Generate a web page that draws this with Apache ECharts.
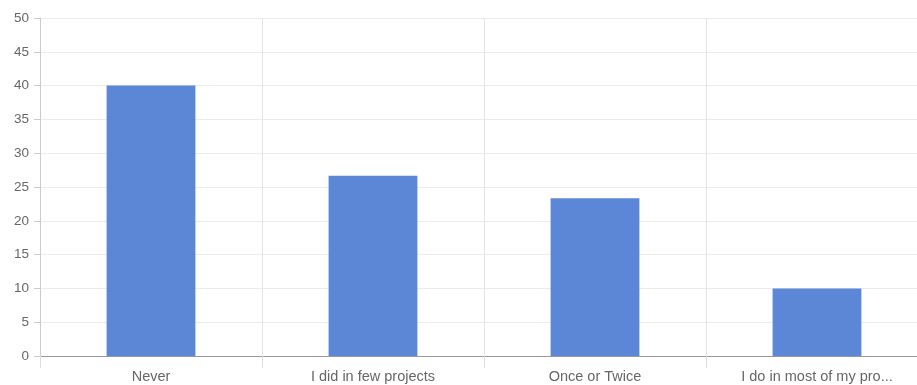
<!DOCTYPE html>
<html>
<head>
<meta charset="utf-8">
<script src="https://cdn.jsdelivr.net/npm/echarts@6/dist/echarts.min.js"></script>
<style>
  html, body { margin: 0; padding: 0; background: #fff; overflow: hidden; }
  #chart { width: 928px; height: 385px; }
</style>
</head>
<body>
<div id="chart"></div>
<script>
var categories = ['Never', 'I did in few projects', 'Once or Twice', 'I do in most of my projects'];
var values = [40, 26.67, 23.33, 10];
var yMin = 0, yMax = 50, yStep = 5;

var chart = echarts.init(document.getElementById('chart'));
var option = {
  animation: false,
  grid: {
    left: 40,
    right: 0,
    top: 18,
    bottom: 29
  },
  xAxis: {
    type: 'category',
    data: categories,
    axisLine: { lineStyle: { color: '#999', width: 1 } },
    axisTick: { show: true, length: 12, lineStyle: { color: '#ddd' } },
    splitLine: { show: true, lineStyle: { color: '#e3e3e3' } },
    axisLabel: {
      color: '#666',
      fontSize: 14.5,
      fontFamily: 'Arial, "Liberation Sans", sans-serif',
      margin: 13,
      width: 154,
      overflow: 'truncate',
      ellipsis: '...'
    }
  },
  yAxis: {
    type: 'value',
    min: yMin,
    max: yMax,
    interval: yStep,
    axisLine: { show: true, lineStyle: { color: '#ccc' } },
    axisTick: { show: true, length: 6, lineStyle: { color: '#ccc' } },
    splitLine: { show: true, lineStyle: { color: '#ebebeb' } },
    axisLabel: {
      color: '#666',
      fontSize: 13.5,
      fontFamily: 'Arial, "Liberation Sans", sans-serif',
      margin: 11
    }
  },
  series: [{
    type: 'bar',
    data: values,
    barWidth: '40%',
    itemStyle: { color: '#5b87d6' }
  }]
};
chart.setOption(option);
</script>
</body>
</html>
